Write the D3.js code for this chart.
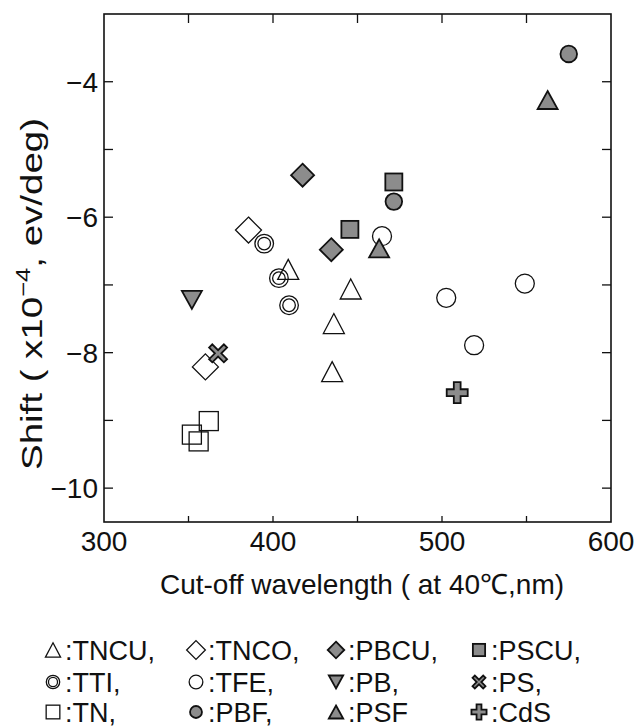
<!DOCTYPE html>
<html><head><meta charset="utf-8">
<script src="https://cdn.jsdelivr.net/npm/d3@7"></script>
<style>body{margin:0;background:#fff}svg{display:block}text{font-family:"Liberation Sans",Arial,sans-serif;fill:#111}</style>
</head><body><svg id="c" width="641" height="728"></svg>
<script>
// ---- data ----
const xTicksMajor = [300, 400, 500, 600];
const xTicksAll = [350, 400, 450, 500, 550];
const yTicksMajor = [-4, -6, -8, -10];
const yTicksAll = [-4, -5, -6, -7, -8, -9, -10];
const TNCU_x = [409, 446, 436, 435],            TNCU_y = [-6.77, -7.06, -7.57, -8.28];
const TNCO_x = [385.5, 360],                    TNCO_y = [-6.19, -8.21];
const PBCU_x = [417.5, 434.5],                  PBCU_y = [-5.38, -6.48];
const PSCU_x = [471.5, 445.5],                  PSCU_y = [-5.48, -6.18];
const TTI_x  = [394.8, 403.5, 409.5],           TTI_y  = [-6.39, -6.90, -7.30];
const TFE_x  = [464.5, 502.5, 549, 519],        TFE_y  = [-6.28, -7.19, -6.98, -7.89];
const PB_x   = [352],                           PB_y   = [-7.22];
const PS_x   = [367.5],                         PS_y   = [-8.01];
const TN_x   = [362, 352, 356],                 TN_y   = [-9.01, -9.21, -9.31];
const PBF_x  = [575, 471.5],                    PBF_y  = [-3.59, -5.77];
const PSF_x  = [562.5, 462.8],                  PSF_y  = [-4.27, -6.46];
const CdS_x  = [509],                           CdS_y  = [-8.59];
const legendNames = ["TNCU,","TNCO,","PBCU,","PSCU,","TTI,","TFE,","PB,","PS,","TN,","PBF,","PSF","CdS"];
const legendShapes = ["triO","diaO","diaF","sqF","dcirc","circO","triDF","cross","sqO","circF","triF","plus"];

// ---- layout ----
const svg = d3.select("#c");
const L = 104, R = 611, T = 14, B = 522;
const x = d3.scaleLinear().domain([300, 600]).range([L, R]);
const y = d3.scaleLinear().domain([-10.5, -3]).range([B, T]);
const GRAY = "#8c8c8c";

function marker(g, type, cx, cy, k) {
  const el = g.append("g").attr("transform", `translate(${cx},${cy})`);
  const open = {fill:"none", stroke:"#111", "stroke-width":1.3};
  const filled = {fill:GRAY, stroke:"#111", "stroke-width":1.8};
  function st(sel, o){ for (const a in o) sel.attr(a, o[a]); return sel; }
  if (type === "triO") st(el.append("path").attr("d", `M0,${-10*k}L${10.5*k},${10*k}L${-10.5*k},${10*k}Z`), open);
  else if (type === "triF") st(el.append("path").attr("d", `M0,${-9*k}L${10*k},${9*k}L${-10*k},${9*k}Z`), filled);
  else if (type === "triDF") st(el.append("path").attr("d", `M0,${9*k}L${10*k},${-9*k}L${-10*k},${-9*k}Z`), filled);
  else if (type === "diaO") st(el.append("path").attr("d", `M0,${-13*k}L${13*k},0L0,${13*k}L${-13*k},0Z`), open);
  else if (type === "diaF") st(el.append("path").attr("d", `M0,${-11.5*k}L${11.5*k},0L0,${11.5*k}L${-11.5*k},0Z`), filled);
  else if (type === "sqO") st(el.append("rect").attr("x",-9.5*k).attr("y",-9.5*k).attr("width",19*k).attr("height",19*k), open);
  else if (type === "sqF") st(el.append("rect").attr("x",-8.5*k).attr("y",-8.5*k).attr("width",17*k).attr("height",17*k), filled);
  else if (type === "circO") st(el.append("circle").attr("r", 9.5*k), open);
  else if (type === "circF") st(el.append("circle").attr("r", 8.3*k), filled);
  else if (type === "dcirc") { st(el.append("circle").attr("r", 9.3*k), open); st(el.append("circle").attr("r", 6.3*k), open); }
  else if (type === "cross") {
    const a = 9*k, w = 3.2*k;
    st(el.append("path").attr("d",
      `M${-a},${-a+w}L${-a+w},${-a}L0,${-w}L${a-w},${-a}L${a},${-a+w}L${w},0L${a},${a-w}L${a-w},${a}L0,${w}L${-a+w},${a}L${-a},${a-w}L${-w},0Z`), filled);
  } else if (type === "plus") {
    const a = 10.5*k, w = 3.4*k;
    st(el.append("path").attr("d",
      `M${-w},${-a}H${w}V${-w}H${a}V${w}H${w}V${a}H${-w}V${w}H${-a}V${-w}H${-w}Z`), filled);
  }
}

// ---- frame & ticks ----
const fr = svg.append("g");
fr.append("rect").attr("x", L).attr("y", T).attr("width", R-L).attr("height", B-T)
  .attr("fill","none").attr("stroke","#111").attr("stroke-width",1.6);
const tl = 9;
yTicksAll.forEach(v => {
  fr.append("line").attr("x1",L).attr("x2",L+tl).attr("y1",y(v)).attr("y2",y(v)).attr("stroke","#111").attr("stroke-width",1.3);
  fr.append("line").attr("x1",R).attr("x2",R-tl).attr("y1",y(v)).attr("y2",y(v)).attr("stroke","#111").attr("stroke-width",1.3);
});
xTicksAll.forEach(v => {
  fr.append("line").attr("x1",x(v)).attr("x2",x(v)).attr("y1",T).attr("y2",T+tl).attr("stroke","#111").attr("stroke-width",1.3);
  fr.append("line").attr("x1",x(v)).attr("x2",x(v)).attr("y1",B).attr("y2",B-tl+3).attr("stroke","#111").attr("stroke-width",1.3);
});
const fmt = v => (v < 0 ? "\u2212" + Math.abs(v) : String(v));
yTicksMajor.forEach(v => {
  fr.append("text").attr("x", L-6).attr("y", y(v)).attr("dy","0.36em").attr("text-anchor","end")
    .attr("font-size",28).text(fmt(v));
});
xTicksMajor.forEach(v => {
  fr.append("text").attr("x", x(v)).attr("y", 551).attr("text-anchor","middle")
    .attr("font-size",28).text(fmt(v));
});

// axis titles
svg.append("text").attr("x", 362).attr("y", 594).attr("text-anchor","middle").attr("font-size",28)
  .text("Cut-off wavelength ( at 40\u2103,nm)");
const yt = svg.append("text").attr("transform","translate(42,294) rotate(-90)").attr("text-anchor","middle")
  .attr("font-size",30).attr("textLength",352).attr("lengthAdjust","spacingAndGlyphs");
yt.append("tspan").text("Shift  ( x10");
yt.append("tspan").attr("dy",-12).attr("font-size",20).text("\u22124");
yt.append("tspan").attr("dy",12).text(", ev/deg)");

// ---- points ----
const pg = svg.append("g");
const series = [
  ["sqO", TN_x, TN_y], ["triO", TNCU_x, TNCU_y], ["diaO", TNCO_x, TNCO_y], ["dcirc", TTI_x, TTI_y],
  ["circO", TFE_x, TFE_y], ["triDF", PB_x, PB_y], ["diaF", PBCU_x, PBCU_y], ["sqF", PSCU_x, PSCU_y],
  ["circF", PBF_x, PBF_y], ["triF", PSF_x, PSF_y], ["cross", PS_x, PS_y], ["plus", CdS_x, CdS_y]
];
series.forEach(([t, xs, ys]) => xs.forEach((xv, i) => marker(pg, t, x(xv), y(ys[i]), 1)));

// ---- legend ----
const lg = svg.append("g");
const colMarker = [53, 196, 336, 479];
const rowY = [650, 682, 712];
legendNames.forEach((n, i) => {
  const r = Math.floor(i/4), c = i % 4;
  marker(lg, legendShapes[i], colMarker[c], rowY[r], 0.72);
  lg.append("text").attr("x", colMarker[c] + 12).attr("y", rowY[r]).attr("dy","0.36em")
    .attr("font-size",27).text(":" + n);
});
</script></body></html>
